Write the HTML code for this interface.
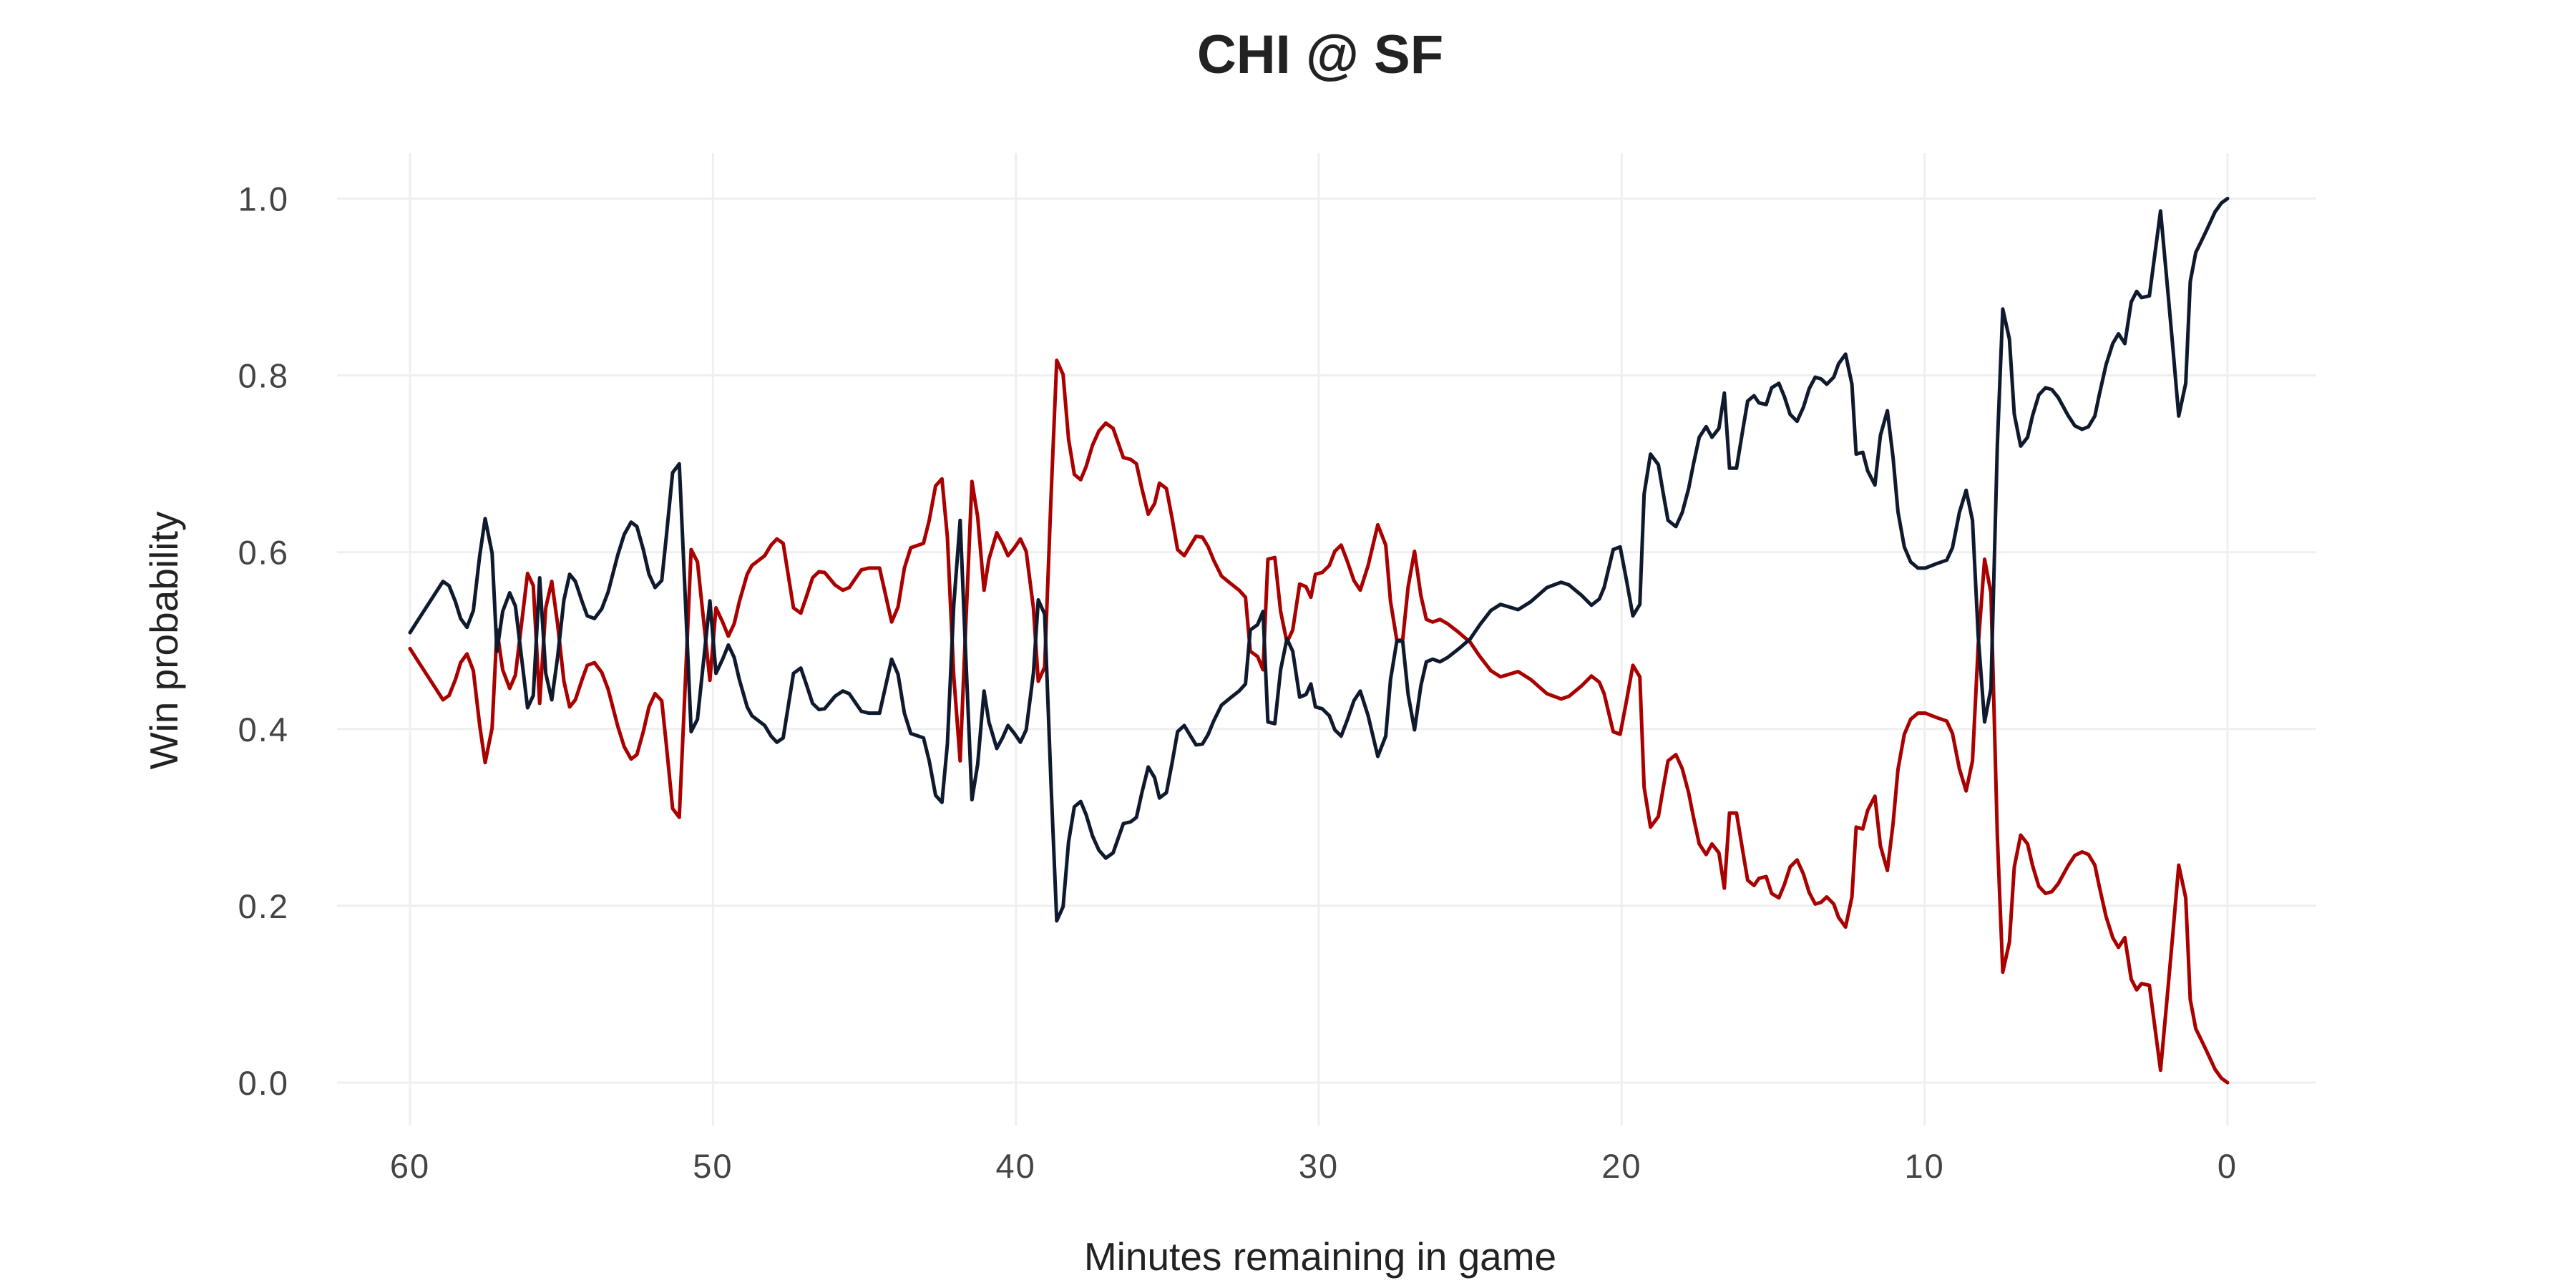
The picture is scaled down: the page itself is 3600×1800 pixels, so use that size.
<!DOCTYPE html>
<html><head><meta charset="utf-8"><style>
html,body{margin:0;padding:0;background:#fff;}
svg{display:block;font-family:"Liberation Sans",sans-serif;}
</style></head><body>
<svg id="chart" width="3600" height="1800" viewBox="0 0 3600 1800" xmlns="http://www.w3.org/2000/svg">
<rect x="0" y="0" width="3600" height="1800" fill="#fff"/>
<g id="grid"></g>
<g id="lines"></g>
<g id="axes"></g>
<text x="1845" y="102" text-anchor="middle" font-size="76" font-weight="bold" fill="#222">CHI @ SF</text>
<text x="1845" y="1775" text-anchor="middle" font-size="55" fill="#222">Minutes remaining in game</text>
<text transform="translate(248,895) rotate(-90)" text-anchor="middle" font-size="55" fill="#222">Win probability</text>
</svg>
<script>
const minutes = [60,59.74,58.91,58.71,58.5,58.33,58.12,57.91,57.7,57.52,57.29,57.13,56.94,56.71,56.52,56.33,56.12,55.93,55.72,55.52,55.32,55.13,54.92,54.73,54.54,54.32,54.15,53.91,53.67,53.46,53.14,52.93,52.7,52.51,52.3,52.11,51.91,51.69,51.54,51.33,51.11,50.93,50.72,50.51,50.1,49.9,49.68,49.49,49.3,49.13,48.87,48.71,48.29,48.08,47.89,47.68,47.34,47.1,46.92,46.71,46.5,46.31,45.97,45.71,45.5,45.28,45.1,44.86,44.5,44.1,43.89,43.68,43.47,43.05,42.86,42.65,42.44,42.26,42.05,41.84,41.68,41.45,41.26,41.05,40.89,40.63,40.44,40.26,40.05,39.85,39.66,39.42,39.26,39.05,38.84,38.65,38.44,38.26,38.07,37.86,37.68,37.47,37.26,37.03,36.79,36.45,36.21,36.02,35.84,35.63,35.42,35.26,35.03,34.84,34.66,34.44,34.23,34.05,33.84,33.65,33.47,33.21,32.89,32.63,32.42,32.26,32.02,31.84,31.68,31.45,31.26,31.05,30.86,30.63,30.42,30.26,30.11,29.89,29.65,29.47,29.26,29.05,28.84,28.63,28.37,28.05,27.79,27.63,27.42,27.23,27.05,26.84,26.63,26.45,26.24,26.0,25.74,25.37,25.0,24.68,24.32,24.0,23.42,23.0,22.47,22.0,21.74,21.32,21.0,20.74,20.58,20.28,20.05,19.84,19.63,19.4,19.26,19.05,18.79,18.63,18.47,18.21,18.0,17.79,17.63,17.44,17.21,17.02,16.79,16.61,16.44,16.21,16.0,15.84,15.63,15.47,15.23,15.05,14.81,14.63,14.44,14.21,14.0,13.81,13.61,13.42,13.23,13.0,12.84,12.61,12.4,12.26,12.04,11.88,11.64,11.46,11.23,11.04,10.88,10.67,10.46,10.22,9.98,9.61,9.27,9.08,8.85,8.63,8.42,8.23,8.02,7.81,7.6,7.42,7.2,7.04,6.83,6.6,6.44,6.23,6.01,5.8,5.59,5.27,5.04,4.8,4.59,4.38,4.24,4.01,3.79,3.6,3.39,3.18,3.0,2.84,2.58,2.21,1.95,1.79,1.61,1.38,1.23,1.05,0.89,0.68,0.41,0.2,0];
const homeWinProb = [0.509,0.523,0.567,0.562,0.544,0.525,0.515,0.534,0.596,0.638,0.599,0.488,0.533,0.554,0.539,0.484,0.424,0.438,0.571,0.463,0.433,0.481,0.546,0.575,0.567,0.544,0.528,0.525,0.536,0.555,0.597,0.620,0.634,0.629,0.603,0.575,0.560,0.568,0.617,0.690,0.700,0.561,0.397,0.411,0.545,0.463,0.479,0.495,0.481,0.456,0.425,0.415,0.404,0.392,0.385,0.390,0.463,0.469,0.451,0.429,0.422,0.423,0.437,0.443,0.440,0.429,0.420,0.418,0.418,0.479,0.462,0.418,0.395,0.390,0.364,0.325,0.317,0.383,0.540,0.636,0.505,0.320,0.360,0.443,0.408,0.378,0.390,0.404,0.395,0.385,0.399,0.463,0.546,0.530,0.338,0.183,0.199,0.272,0.312,0.318,0.303,0.279,0.263,0.254,0.260,0.293,0.295,0.300,0.328,0.357,0.345,0.322,0.328,0.362,0.397,0.404,0.392,0.382,0.383,0.394,0.409,0.427,0.436,0.443,0.451,0.512,0.518,0.533,0.408,0.406,0.467,0.502,0.488,0.436,0.439,0.451,0.425,0.423,0.415,0.399,0.392,0.411,0.432,0.443,0.415,0.369,0.392,0.456,0.500,0.499,0.439,0.399,0.449,0.476,0.479,0.476,0.481,0.491,0.502,0.518,0.534,0.541,0.535,0.544,0.560,0.566,0.563,0.551,0.540,0.547,0.560,0.603,0.606,0.568,0.528,0.541,0.666,0.711,0.699,0.667,0.636,0.629,0.645,0.672,0.700,0.730,0.742,0.730,0.740,0.780,0.695,0.695,0.739,0.771,0.777,0.769,0.767,0.786,0.791,0.776,0.756,0.748,0.764,0.785,0.798,0.796,0.790,0.798,0.813,0.824,0.790,0.711,0.713,0.692,0.676,0.732,0.760,0.707,0.646,0.606,0.589,0.582,0.582,0.587,0.591,0.605,0.645,0.670,0.636,0.505,0.408,0.446,0.721,0.875,0.841,0.756,0.720,0.730,0.754,0.778,0.786,0.784,0.775,0.755,0.743,0.739,0.742,0.754,0.777,0.812,0.836,0.847,0.836,0.883,0.895,0.888,0.890,0.986,0.888,0.826,0.754,0.791,0.906,0.939,0.950,0.965,0.985,0.995,1.0];
const xTicks = [60,50,40,30,20,10,0];
const yTicks = [0,0.2,0.4,0.6,0.8,1.0];
const yTickLabels = ["0.0","0.2","0.4","0.6","0.8","1.0"];

const NS = "http://www.w3.org/2000/svg";
function xs(m){ return 573 + (60 - m) * (3113 - 573) / 60; }
function ys(v){ return 1513 - v * (1513 - 277.5); }
function mk(tag, attrs, parent){
  const e = document.createElementNS(NS, tag);
  for (const k in attrs) e.setAttribute(k, attrs[k]);
  parent.appendChild(e); return e;
}
const grid = document.getElementById('grid');
const axes = document.getElementById('axes');
const lines = document.getElementById('lines');
yTicks.forEach((t, i) => {
  const l = mk('line', {x1:471, x2:3237, y1:ys(t), y2:ys(t), stroke:'#efefef', 'stroke-width':3}, grid);
  
  
  const tx = mk('text', {x:404, y:ys(t)+17, 'text-anchor':'end', 'font-size':47, 'letter-spacing':2, fill:'#444'}, axes);
  tx.textContent = yTickLabels[i];
  
  
});
xTicks.forEach(t => {
  const l = mk('line', {x1:xs(t), x2:xs(t), y1:214, y2:1573, stroke:'#efefef', 'stroke-width':3}, grid);
  
  
  const tx = mk('text', {x:xs(t), y:1646, 'text-anchor':'middle', 'font-size':47, 'letter-spacing':2, fill:'#444'}, axes);
  tx.textContent = String(t);
  
  
});
const awayPts = minutes.map((m, i) => xs(m).toFixed(1) + ',' + ys(1 - homeWinProb[i]).toFixed(1)).join(' ');
const homePts = minutes.map((m, i) => xs(m).toFixed(1) + ',' + ys(homeWinProb[i]).toFixed(1)).join(' ');
const red = mk('polyline', {points:awayPts, fill:'none', stroke:'#aa0000', 'stroke-width':5, 'stroke-linejoin':'round', 'stroke-linecap':'round'}, lines);


const blk = mk('polyline', {points:homePts, fill:'none', stroke:'#0f1a2e', 'stroke-width':5, 'stroke-linejoin':'round', 'stroke-linecap':'round'}, lines);


</script>
</body></html>
